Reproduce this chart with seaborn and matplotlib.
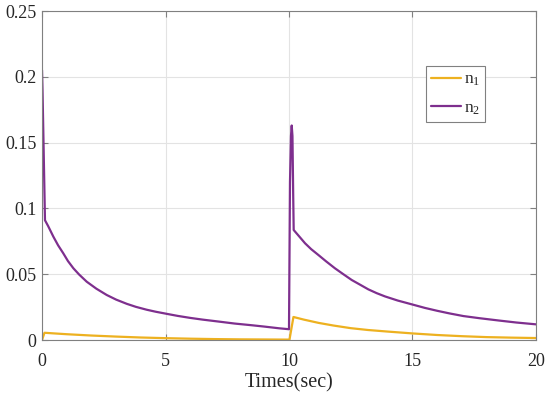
import numpy as np
import pandas as pd
import matplotlib
matplotlib.use("Agg")
import matplotlib.pyplot as plt
import seaborn as sns

# values
t_n1 = [0, 0.1, 0.5, 1, 2, 3, 4, 5, 6, 7, 8, 9, 9.95, 10.02, 10.18, 10.6, 11.2, 11.8, 12.5,
        13.2, 14, 15, 16, 17, 18, 19, 20]
n1 = [0, 0.0055, 0.0050, 0.0044, 0.0034, 0.0026, 0.0019, 0.0014, 0.0010, 0.0007, 0.0005,
      0.0004, 0.0003, 0.0003, 0.0175, 0.0155, 0.0130, 0.0110, 0.0090, 0.0076, 0.0064, 0.0050,
      0.0038, 0.0029, 0.0022, 0.0018, 0.0015]

t_n2 = [0, 0.02, 0.12, 0.25, 0.46, 0.65, 0.86, 1.05, 1.27, 1.5, 1.81, 2.2, 2.62, 3.0, 3.43,
        3.8, 4.24, 4.6, 5.1, 5.5, 6.0, 6.5, 7.2, 7.8, 8.5, 9.0, 9.6, 10.0,
        10.04, 10.08, 10.11, 10.14, 10.17, 10.19, 10.4, 10.65, 10.9, 11.19, 11.5, 11.86, 12.2,
        12.54, 12.9, 13.21, 13.55, 13.89, 14.4, 15.03, 15.5, 16.0, 16.5, 17.06, 17.7, 18.5,
        19.2, 20.0]
n2 = [0.205, 0.19, 0.091, 0.0865, 0.0785, 0.072, 0.0659, 0.060, 0.0545, 0.0498, 0.0443, 0.039,
      0.0342, 0.0307, 0.0275, 0.0252, 0.0230, 0.0215, 0.0197, 0.0183, 0.0168, 0.0155, 0.0139,
      0.0125, 0.0112, 0.0102, 0.0089, 0.0082,
      0.12, 0.155, 0.163, 0.155, 0.11, 0.0836, 0.079, 0.0735, 0.069, 0.0646, 0.0598, 0.0545,
      0.050, 0.0456, 0.0418, 0.0385, 0.0356, 0.0331, 0.030, 0.0268, 0.0244, 0.0222, 0.0202,
      0.0182, 0.0166, 0.0148, 0.0133, 0.0119]

labels = ["n$_1$", "n$_2$"]
colours = ["#EDB120", "#7E2F8E"]

sns.set_style("whitegrid")
plt.rcParams["font.family"] = ["Liberation Serif", "DejaVu Serif"]
plt.rcParams["mathtext.fontset"] = "custom"
plt.rcParams["mathtext.rm"] = "Liberation Serif"
plt.rcParams["mathtext.it"] = "Liberation Serif"

fig = plt.figure(figsize=(5.5, 3.96), dpi=100)
ax = fig.add_axes([0.0764, 0.1414, 0.8981, 0.8308])

for t, v, lab, col in zip([t_n1, t_n2], [n1, n2], labels, colours):
    sns.lineplot(x=t, y=v, ax=ax, color=col, linewidth=1.6, label=lab, estimator=None, sort=False)

ax.set_xlim(0, 20)
ax.set_ylim(0, 0.25)
ax.set_xticks([0, 5, 10, 15, 20])
ax.set_yticks([0, 0.05, 0.1, 0.15, 0.2, 0.25])
ax.set_yticklabels(["0", "0.05", "0.1", "0.15", "0.2", "0.25"])
ax.set_xlabel("Times(sec)", fontsize=14.5, color="#262626", labelpad=3)
ax.set_ylabel("")

ax.grid(True, color="#e3e3e3", linewidth=0.8)
for s in ax.spines.values():
    s.set_visible(True)
    s.set_color("#808080")
    s.set_linewidth(0.8)
ax.tick_params(direction="in", length=4, width=0.8, color="#808080", labelsize=13,
               labelcolor="#262626", top=True, right=True, bottom=True, left=True)
ax.tick_params(axis="x", pad=9)
ax.tick_params(axis="y", pad=4)

leg = ax.legend(loc="upper left", bbox_to_anchor=(0.777, 0.832), fontsize=12.5, frameon=True,
                fancybox=False, handlelength=1.7, handletextpad=0.2, borderpad=0.3,
                labelspacing=0.7, borderaxespad=0)
leg.get_frame().set_edgecolor("#808080")
leg.get_frame().set_linewidth(0.8)
leg.get_frame().set_alpha(1)

fig.savefig("out.png", dpi=100)
